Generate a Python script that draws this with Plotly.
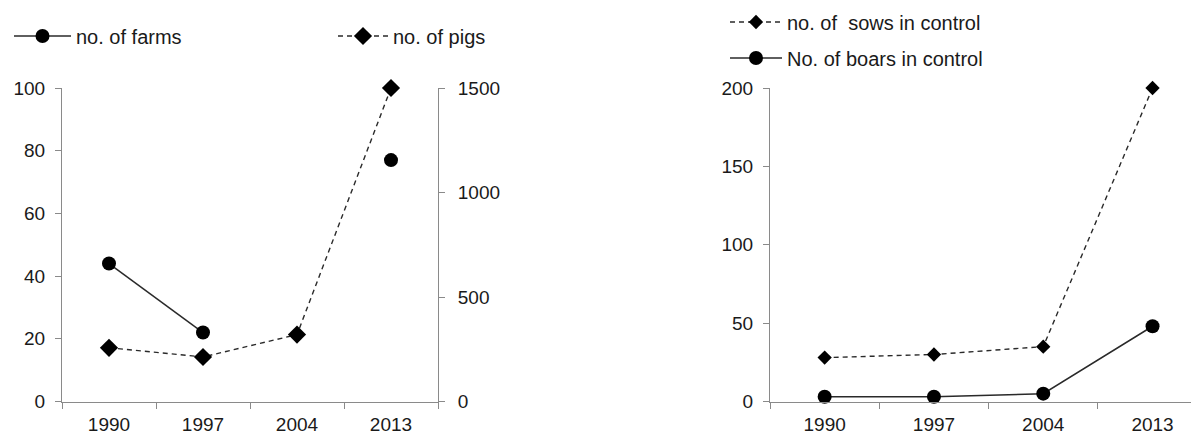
import plotly.graph_objects as go

years = ["1990", "1997", "2004", "2013"]
farms = [44, 22, None, 77]
pigs = [257, 213, 320, 1500]
sows = [28, 30, 35, 200]
boars = [3, 3, 5, 48]

FONT = "Liberation Sans, Arial, sans-serif"
TXT = "#1a1a1a"
AX = "#8a8a8a"
LINE = "#2a2a2a"
FS = 19
LFS = 20

# page is offset by the default 8px body margin
OFF = 8
W, H = 1199 - OFF, 436 - OFF


def fx(px):
    return (px - OFF) / W


def fy(py):
    return (436 - py) / H


fig = go.Figure()

fig.add_trace(go.Scatter(
    x=years, y=farms, name="no. of farms", mode="lines+markers",
    line=dict(color=LINE, width=1.5), marker=dict(symbol="circle", size=14, color="black"),
    connectgaps=False, cliponaxis=False, xaxis="x", yaxis="y", legend="legend"))
fig.add_trace(go.Scatter(
    x=years, y=pigs, name="no. of pigs", mode="lines+markers",
    line=dict(color=LINE, width=1.4, dash="5px,4px"), marker=dict(symbol="diamond", size=14, color="black"),
    cliponaxis=False, xaxis="x", yaxis="y2", legend="legend2"))
fig.add_trace(go.Scatter(
    x=years, y=sows, name="no. of\u00a0 sows in control", mode="lines+markers",
    line=dict(color=LINE, width=1.4, dash="5px,4px"), marker=dict(symbol="diamond", size=11, color="black"),
    cliponaxis=False, xaxis="x2", yaxis="y3", legend="legend3"))
fig.add_trace(go.Scatter(
    x=years, y=boars, name="No. of boars in control", mode="lines+markers",
    line=dict(color=LINE, width=1.5), marker=dict(symbol="circle", size=14, color="black"),
    cliponaxis=False, xaxis="x2", yaxis="y3", legend="legend4"))

ydom = [fy(401.5), fy(88)]
axcommon = dict(showline=True, linecolor=AX, linewidth=1, showgrid=False, zeroline=False,
                ticks="outside", ticklen=6, tickcolor=AX, automargin=False,
                tickfont=dict(family=FONT, size=FS, color=TXT))


def leg(px, py, iw):
    return dict(x=fx(px), y=fy(py), font=dict(family=FONT, size=LFS, color=TXT),
                bgcolor="rgba(0,0,0,0)", borderwidth=0, itemwidth=iw,
                xanchor="left", yanchor="middle")


fig.update_layout(
    width=W, height=H, margin=dict(l=0, r=0, t=0, b=0, autoexpand=False),
    paper_bgcolor="white", plot_bgcolor="white",
    showlegend=True,
    xaxis=dict(domain=[fx(62), fx(438)], type="category", range=[-0.5, 3.5],
               tickson="boundaries", anchor="y", ticklabelstandoff=6, **axcommon),
    yaxis=dict(domain=ydom, range=[0, 100], dtick=20, anchor="x", ticklabelstandoff=6, **axcommon),
    yaxis2=dict(overlaying="y", side="right", range=[0, 1500], dtick=500, anchor="x",
                ticklabelstandoff=9, **axcommon),
    xaxis2=dict(domain=[fx(770), 1.0], type="category", range=[-0.5, 3.425],
                tickson="boundaries", anchor="y3", ticklabelstandoff=6, **axcommon),
    yaxis3=dict(domain=ydom, range=[0, 200], dtick=50, anchor="x2", ticklabelstandoff=6, **axcommon),
    legend=leg(9, 36, 57),
    legend2=leg(333, 36, 50),
    legend3=leg(725, 22, 52),
    legend4=leg(725, 58, 52),
)

fig.write_html("out.html")
